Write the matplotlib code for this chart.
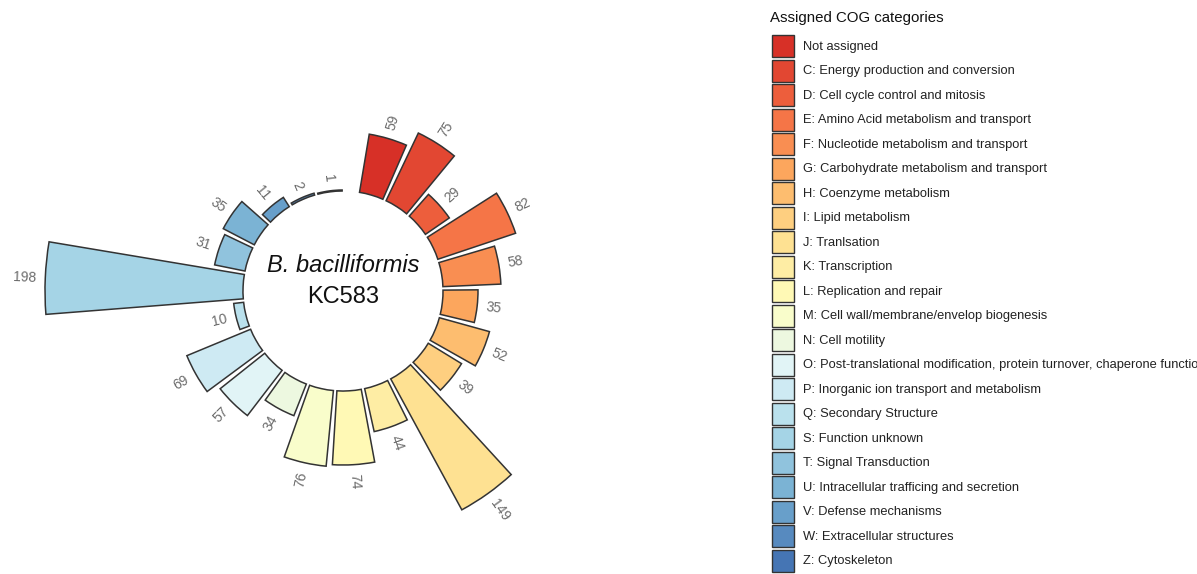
import numpy as np
import matplotlib
matplotlib.use("Agg")
import matplotlib.pyplot as plt
from matplotlib.colors import LinearSegmentedColormap
from matplotlib.patches import Patch

plt.rcParams['font.family'] = ['Liberation Sans', 'DejaVu Sans']

# ---- data ----
categories = ["Not assigned",
              "C: Energy production and conversion",
              "D: Cell cycle control and mitosis",
              "E: Amino Acid metabolism and transport",
              "F: Nucleotide metabolism and transport",
              "G: Carbohydrate metabolism and transport",
              "H: Coenzyme metabolism",
              "I: Lipid metabolism",
              "J: Tranlsation",
              "K: Transcription",
              "L: Replication and repair",
              "M: Cell wall/membrane/envelop biogenesis",
              "N: Cell motility",
              "O: Post-translational modification, protein turnover, chaperone functions",
              "P: Inorganic ion transport and metabolism",
              "Q: Secondary Structure",
              "S: Function unknown",
              "T: Signal Transduction",
              "U: Intracellular trafficing and secretion",
              "V: Defense mechanisms",
              "W: Extracellular structures",
              "Z: Cytoskeleton"]
counts = [59, 75, 29, 82, 58, 35, 52, 39, 149, 44, 74, 76, 34, 57, 69, 10, 198, 31, 35, 11, 2, 1]

palette_anchor = ["#D73027", "#F46D43", "#FDAE61", "#FEE090", "#FFFFBF",
                  "#E0F3F8", "#ABD9E9", "#74ADD1", "#4575B4"]

# ---- figure ----
W, H = 1197, 574
fig = plt.figure(figsize=(W / 100, H / 100), dpi=100)

cx, cy = 343, 291          # circle centre in pixels (from top-left)
R = 300                    # axes radius in px == data units
hole = 100

ax = fig.add_axes([(cx - R) / W, (H - cy - R) / H, 2 * R / W, 2 * R / H],
                  projection='polar')
ax.set_theta_zero_location('N')
ax.set_theta_direction(-1)
ax.set_ylim(0, R)
ax.set_axis_off()

cmap = LinearSegmentedColormap.from_list("rdylbu", palette_anchor)
n = len(counts)
colors = [cmap(i / (n - 1)) for i in range(n)]

step = 16.0
start = 16.5
theta_deg = np.array([start + step * i for i in range(n)])
theta = np.radians(theta_deg)
width = np.radians(14.0)

ax.bar(theta, counts, width=width, bottom=hole, color=colors,
       edgecolor="#333333", linewidth=1.1, align='center')

for t, td, v in zip(theta, theta_deg, counts):
    if td <= 180:
        rot, ha = 90 - td, 'left'
    else:
        rot, ha = 270 - td, 'right'
    ax.text(t, hole + v + 9, str(v), rotation=rot, rotation_mode='anchor',
            ha=ha, va='center', fontsize=10, color='#6b6b6b',
            clip_on=False)

ax.text(0.5, 0.5 + 26 / (2 * R), "B. bacilliformis", transform=ax.transAxes,
        ha='center', va='center', fontsize=17, style='italic', color='#111111')
ax.text(0.5, 0.5 - 6 / (2 * R), "KC583", transform=ax.transAxes,
        ha='center', va='center', fontsize=17, color='#111111')

# ---- legend ----
fig.text(770 / W, 1 - 18 / H, "Assigned COG categories", ha='left',
         va='center', fontsize=10.8, color='#111111')

handles = [Patch(facecolor=c, edgecolor="#333333", linewidth=1.0) for c in colors]
fs = 9.25
fs_px = fs * 100 / 72
key_px = 22.0
# matplotlib handle box height = fs*(0.65*h + 0.245)
hh = (key_px / fs_px - 0.245) / 0.65
leg = fig.legend(handles, categories, loc='upper left',
                 bbox_to_anchor=(772 / W, 1 - 35 / H), frameon=False,
                 fontsize=fs,
                 handlelength=key_px / fs_px, handleheight=hh,
                 labelspacing=2.5 / fs_px, handletextpad=9 / fs_px,
                 borderpad=0, borderaxespad=0)
for t in leg.get_texts():
    t.set_color('#222222')

fig.savefig("out.png", dpi=100)
